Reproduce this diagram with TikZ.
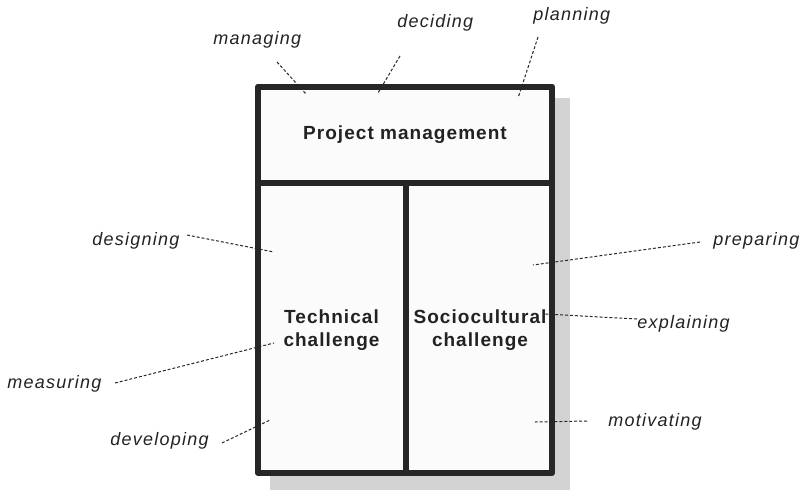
\documentclass[tikz,border=0pt]{standalone}
\usepackage{fontspec}
\setmainfont{Liberation Sans}
\newfontfamily\boldlab[LetterSpace=5.5]{Liberation Sans Bold}
\newfontfamily\itlab[LetterSpace=7]{Liberation Sans Italic}
\definecolor{linec}{HTML}{262626}
\definecolor{shadowc}{HTML}{D2D2D2}
\definecolor{fillc}{HTML}{FBFBFB}
\definecolor{textc}{HTML}{222222}
\begin{document}
\begin{tikzpicture}[x=0.75pt,y=-0.75pt,
  boxline/.style={draw=linec,line width=4.5pt,line join=round},
  cellname/.style={align=center,text=textc,font=\boldlab\fontsize{14.25}{17.5}\selectfont,inner sep=0pt},
  lab/.style={text=textc,font=\itlab\fontsize{13.5}{16}\selectfont,inner sep=0pt,anchor=base west},
  leader/.style={draw=linec,line width=0.75pt,dash pattern=on 2.2pt off 1.5pt}]
\useasboundingbox (0,0) rectangle (803,489);
% shadow
\fill[shadowc] (270,98.3) rectangle (570,492);
% box
\fill[fillc] (258,86.5) rectangle (552,473);
\draw[boxline] (258,183) -- (552,183);
\draw[boxline] (405.5,183) -- (405.5,473);
\draw[boxline] (258,86.5) rectangle (552,473);
% cell titles
\node[cellname] (pm) at (405,135) {Project management};
\node[cellname] (tech) at (331.5,330) {Technical\\challenge};
\node[cellname] (socio) at (480,330) {Sociocultural\\challenge};
% labels
\node[lab] (managing) at (213,44.3) {managing};
\node[lab] (deciding) at (397,27) {deciding};
\node[lab] (planning) at (533,20) {planning};
\node[lab] (designing) at (92,245) {designing};
\node[lab] (measuring) at (7,388) {measuring};
\node[lab] (developing) at (110,445.5) {developing};
\node[lab] (preparing) at (713,245) {preparing};
\node[lab] (explaining) at (637,328) {explaining};
\node[lab] (motivating) at (608,426.5) {motivating};
% leader end points
\coordinate (mgA) at (277,62);   \coordinate (mgB) at (306,94);
\coordinate (dcA) at (400,56);   \coordinate (dcB) at (378,93);
\coordinate (plA) at (538,37);   \coordinate (plB) at (518,98);
\coordinate (dsA) at (187,235);  \coordinate (dsB) at (274,252);
\coordinate (msA) at (115,383);  \coordinate (msB) at (274,343);
\coordinate (dvA) at (222,443);  \coordinate (dvB) at (270,420);
\coordinate (prA) at (700,242);  \coordinate (prB) at (533,265);
\coordinate (exA) at (637,319);  \coordinate (exB) at (545,314);
\coordinate (moA) at (587,421);  \coordinate (moB) at (535,422);
\draw[leader] (mgA) -- (mgB);
\draw[leader] (dcA) -- (dcB);
\draw[leader] (plA) -- (plB);
\draw[leader] (dsA) -- (dsB);
\draw[leader] (msA) -- (msB);
\draw[leader] (dvA) -- (dvB);
\draw[leader] (prA) -- (prB);
\draw[leader] (exA) -- (exB);
\draw[leader] (moA) -- (moB);
\end{tikzpicture}
\end{document}
